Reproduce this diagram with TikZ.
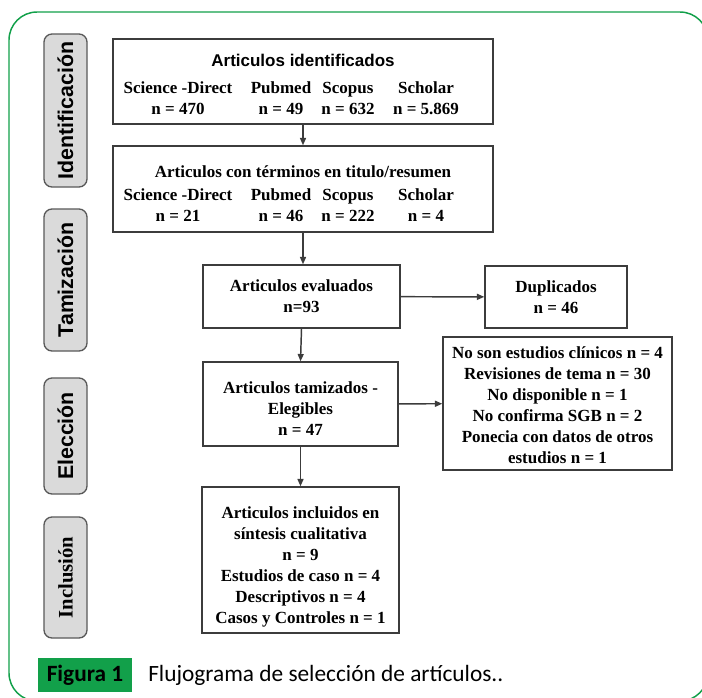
\documentclass[tikz,border=0pt]{standalone}
\usepackage{fontspec}
\usepackage{array}
\setmainfont{Liberation Serif}
\setsansfont{Liberation Sans}
\newfontfamily\capfont{Carlito}
\usetikzlibrary{arrows.meta}
\definecolor{verde}{HTML}{12A04A}
\definecolor{gris}{HTML}{DADADA}
\definecolor{borde}{HTML}{3C3C3C}
\newcommand{\px}{0.75pt}
\newcolumntype{C}[1]{>{\centering\arraybackslash}p{#1}}
\setlength{\tabcolsep}{0pt}
\tikzset{
  caja/.style={draw=borde, line width=1.1pt, inner sep=0pt, align=center,
    font=\bfseries\fontsize{12.75}{15.75}\selectfont},
  fase/.style={draw=borde!85, line width=1pt, fill=gris, rounded corners=6pt,
    rotate=90, inner sep=0pt, minimum height=43*\px,
    font=\sffamily\bfseries\fontsize{16}{18}\selectfont},
  flecha/.style={-{Triangle[length=5.5pt,width=4.5pt]}, line width=1.1pt, draw=borde},
}
\begin{document}
\begin{tikzpicture}[x=\px, y=-\px]
  \useasboundingbox (0,0) rectangle (702,697);
  \fill[white] (0,0) rectangle (702,697);
  % marco
  \draw[verde, line width=1.1pt, rounded corners=21pt] (9,12) rectangle (708,701);

  % fases
  \node[fase, minimum width=153*\px] (f1) at (65.5,110.5) {Identificación};
  \node[fase, minimum width=142*\px] (f2) at (65.5,280) {Tamización};
  \node[fase, minimum width=116*\px] (f3) at (65.5,436) {Elección};
  \node[fase, minimum width=121*\px, font=\bfseries\fontsize{15.5}{18}\selectfont] (f4) at (65.5,577.5) {Inclusión};

  % cajas
  \node[caja, minimum width=374*\px, minimum height=85*\px] (ident) at (303,81.5)
    {\rule{0pt}{18pt}{\sffamily Articulos identificados}\\[8pt]
     \begin{tabular}{@{}C{97.5pt}C{57pt}C{43.5pt}C{73.5pt}@{\hspace{13.5pt}}}
       Science -Direct & Pubmed & Scopus & Scholar\\
       n = 470 & n = 49 & n = 632 & n = 5.869
     \end{tabular}};
  \node[caja, minimum width=370*\px, minimum height=86*\px] (term) at (303,189)
    {\rule{0pt}{20pt}Articulos con términos en titulo/resumen\\[5pt]
     \begin{tabular}{@{}C{97.5pt}C{57pt}C{43.5pt}C{73.5pt}@{\hspace{13.5pt}}}
       Science -Direct & Pubmed & Scopus & Scholar\\
       n = 21 & n = 46 & n = 222 & n = 4
     \end{tabular}};
  \node[caja, minimum width=197*\px, minimum height=63*\px] (eval) at (301.5,296.5)
    {Articulos evaluados\\n=93};
  \node[caja, minimum width=142*\px, minimum height=62*\px] (dup) at (556,297)
    {Duplicados\\n = 46};
  \node[caja, minimum width=195*\px, minimum height=84*\px] (tam) at (300.5,404)
    {\rule{0pt}{15pt}Articulos tamizados -\\Elegibles\\n = 47};
  \node[caja, minimum width=229*\px, minimum height=133*\px] (excl) at (557.5,403.5)
    {\rule{0pt}{12pt}No son estudios clínicos n = 4\\Revisiones de tema n = 30\\No disponible n = 1\\
     No confirma SGB n = 2\\Ponecia con datos de otros\\estudios n = 1};
  \node[caja, minimum width=197*\px, minimum height=146*\px] (incl) at (300.5,560)
    {\rule{0pt}{19pt}Articulos incluidos en\\síntesis cualitativa\\n = 9\\Estudios de caso n = 4\\
     Descriptivos n = 4\\Casos y Controles n = 1};

  % flechas
  \draw[flecha] (ident.south) -- (ident.south |- term.north);
  \draw[flecha] (term.south) -- (term.south |- eval.north);
  \draw[flecha] (eval) -- (dup);
  \draw[flecha] (eval.south) -- (tam.north);
  \draw[flecha] (tam) -- (excl);
  \draw[flecha] (tam.south) -- (incl.north);

  % pie
  \node[fill=verde, minimum width=94*\px, minimum height=34*\px, inner sep=0pt,
    font=\capfont\bfseries\fontsize{17.5}{20}\selectfont] (fig) at (85,675) {Figura 1};
  \node[anchor=west, inner sep=0pt, font=\capfont\fontsize{17.5}{20}\selectfont]
    (titulo) at (148,675) {Flujograma de selección de artículos..};
\end{tikzpicture}
\end{document}
